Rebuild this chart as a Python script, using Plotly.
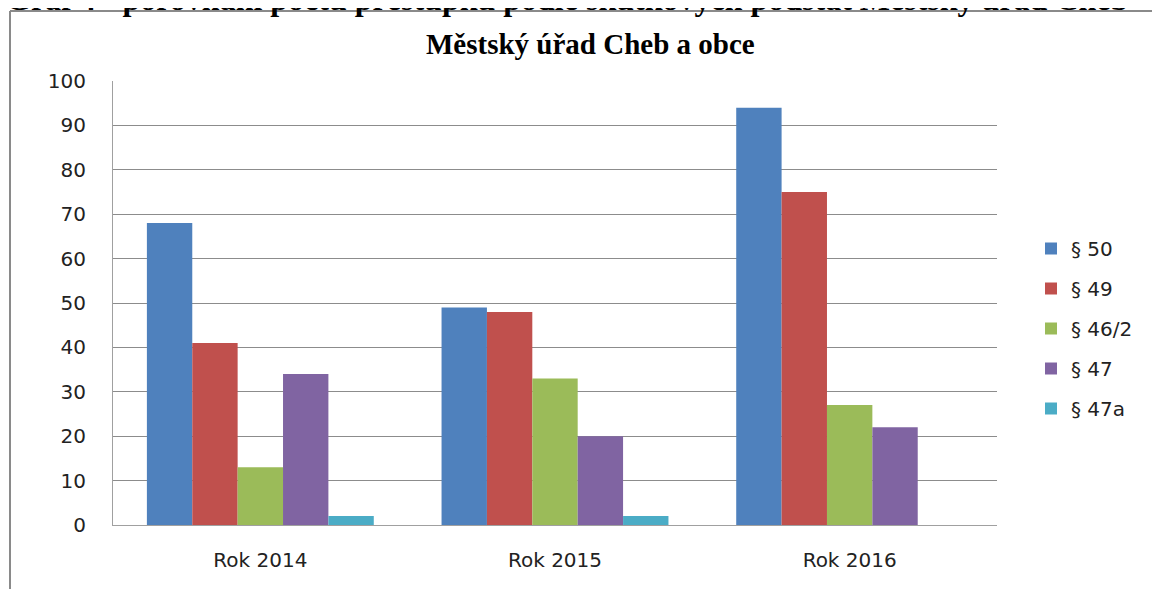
import plotly.graph_objects as go

categories = ["Rok 2014", "Rok 2015", "Rok 2016"]
series_names = ["§ 50", "§ 49", "§ 46/2", "§ 47", "§ 47a"]
s50 = [68, 49, 94]
s49 = [41, 48, 75]
s46_2 = [13, 33, 27]
s47 = [34, 20, 22]
s47a = [2, 2, 0]
series_values = [s50, s49, s46_2, s47, s47a]
colors = ["#4F81BD", "#C0504D", "#9BBB59", "#8064A2", "#4BACC6"]
y_ticks = [0, 10, 20, 30, 40, 50, 60, 70, 80, 90, 100]

fig = go.Figure()
for i, (name, vals, col) in enumerate(zip(series_names, series_values, colors)):
    fig.add_trace(go.Bar(
        x=categories, y=vals, name=name, legendgroup=f"g{i}",
        marker=dict(color=col, line=dict(width=0)),
    ))

OFF = 8  # page body margin
W, H = 1160 - OFF, 589 - OFF
L, T = 113 - OFF, 81 - OFF
pw, ph = 884, 444
R = W - L - pw
B = H - T - ph

def px(x):
    return (x - OFF - L) / pw

def py(y):
    return (T + ph - (y - OFF)) / ph

fig.update_layout(
    width=W, height=H,
    margin=dict(l=L, r=R, t=T, b=B),
    paper_bgcolor="white", plot_bgcolor="white",
    barmode="group", bargap=0.23, bargroupgap=0,
    font=dict(family="DejaVu Sans", size=20, color="#222222"),
    xaxis=dict(showgrid=False, showline=True, linecolor="#A0A0A0", linewidth=1,
               ticks="", tickfont=dict(size=20), ticklabelstandoff=17, fixedrange=True),
    yaxis=dict(range=[0, 100], tickvals=y_ticks, showgrid=True, gridcolor="#8C8C8C",
               gridwidth=1, showline=True, linecolor="#A0A0A0", linewidth=1,
               ticks="", ticklen=0, tickfont=dict(size=20), ticklabelstandoff=22,
               zeroline=False),
    legend=dict(x=px(1031), y=py(229), xanchor="left", yanchor="top",
                font=dict(size=20), tracegroupgap=11, bgcolor="rgba(0,0,0,0)"),
    showlegend=True,
    annotations=[
        dict(text="<b>Městský úřad Cheb a obce</b>", x=px(590), y=py(44),
             xref="paper", yref="paper", xanchor="center", yanchor="middle",
             showarrow=False, font=dict(family="Liberation Serif", size=29, color="#000000")),
        dict(text="<b>Graf 4 - porovnání počtu přestupků podle skutkových podstat Městský úřad Cheb</b>",
             x=px(4), y=py(-1), xref="paper", yref="paper", xanchor="left", yanchor="middle",
             showarrow=False, font=dict(family="Liberation Serif", size=32, color="#000000")),
    ],
    shapes=[
        dict(type="line", xref="paper", yref="paper", x0=px(10), x1=px(1160), y0=py(11), y1=py(11),
             line=dict(color="#8A8A8A", width=2)),
        dict(type="line", xref="paper", yref="paper", x0=px(10), x1=px(10), y0=py(11), y1=py(589),
             line=dict(color="#8A8A8A", width=2)),
    ],
)

fig.write_html("out.html")
